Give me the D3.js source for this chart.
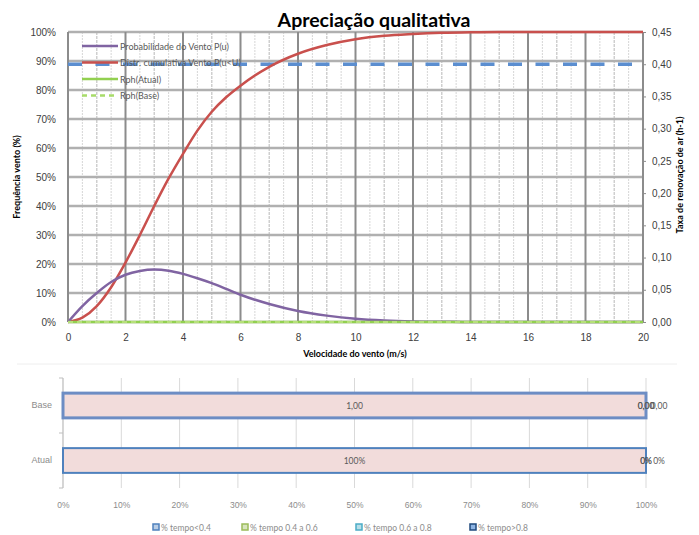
<!DOCTYPE html>
<html>
<head>
<meta charset="utf-8">
<script src="https://cdn.jsdelivr.net/npm/d3@7"></script>
<style>
  body { margin: 0; background: #fff; }
  svg { display: block; font-family: Lato, "Open Sans", sans-serif; }
</style>
</head>
<body>
<div id="chart"></div>
<script>
// wind speed (m/s)
var speed = [0,0.5,1,1.5,2,2.5,3,3.5,4,4.5,5,5.5,6,7,8,9,10,11,12,13,14,15,16,17,18,19,20];
// Probabilidade do Vento P(u) in %
var probVento = [0,5.5,10,13.8,16.3,17.6,18.1,17.7,16.6,15.1,13.4,11.4,9.4,6.2,3.8,2.2,1.1,0.5,0.2,0.1,0,0,0,0,0,0,0];
// Distr. cumulativa in %
var cumVento = [0,1.5,5.5,12,20.5,30,40,49.5,58,66,72.5,77.5,81.5,88,92.5,95.5,97.5,98.7,99.3,99.7,99.9,100,100,100,100,100,100];
// Rph lines (right axis, h-1)
var rphAtual = 0;
var rphBase = 0;
var rphLimite = 0.40;

var leftTicks = [0,10,20,30,40,50,60,70,80,90,100];
var rightTicks = [0,0.05,0.10,0.15,0.20,0.25,0.30,0.35,0.40,0.45];
var xTicks = [0,2,4,6,8,10,12,14,16,18,20];

var legendNames = ["Probabilidade do Vento P(u)", "Distr. cumulativa Vento P(u<U)", "Rph(Atual)", "Rph(Base)"];

// bottom bar chart
var barCats = ["Base", "Atual"];
var barSeries = ["% tempo<0.4", "% tempo 0.4 a 0.6", "% tempo 0.6 a 0.8", "% tempo>0.8"];
var barBase = [1.00, 0, 0, 0];
var barAtual = [1.00, 0, 0, 0];
var barTicks = [0,0.1,0.2,0.3,0.4,0.5,0.6,0.7,0.8,0.9,1];

var W = 699, H = 535;
var svg = d3.select("#chart").append("svg").attr("width", W).attr("height", H);

// ---------- top chart ----------
var plot = {left: 68, right: 643, top: 32, bottom: 322};
var x = d3.scaleLinear().domain([0,20]).range([plot.left, plot.right]);
var yL = d3.scaleLinear().domain([0,100]).range([plot.bottom, plot.top]);
var yR = d3.scaleLinear().domain([0,0.45]).range([plot.bottom, plot.top]);

var grid = svg.append("g");
// minor verticals every 0.5
grid.selectAll("line.vmin").data(d3.range(0.5, 20, 0.5).filter(d => d % 1 !== 0))
  .enter().append("line")
  .attr("x1", d => x(d)).attr("x2", d => x(d))
  .attr("y1", plot.top).attr("y2", plot.bottom)
  .attr("stroke", "#d6d6d6").attr("stroke-width", 1).attr("stroke-dasharray", "2,1");
// odd integers
grid.selectAll("line.vodd").data(d3.range(1, 20, 2))
  .enter().append("line")
  .attr("x1", d => x(d)).attr("x2", d => x(d))
  .attr("y1", plot.top).attr("y2", plot.bottom)
  .attr("stroke", "#cfcfcf").attr("stroke-width", 1.5).attr("stroke-dasharray", "3,1");
// horizontal majors
grid.selectAll("line.h").data(leftTicks)
  .enter().append("line")
  .attr("x1", plot.left).attr("x2", plot.right)
  .attr("y1", d => yL(d)).attr("y2", d => yL(d))
  .attr("stroke", "#b0b0b0").attr("stroke-width", 2.5);
// vertical majors
grid.selectAll("line.vmaj").data(xTicks)
  .enter().append("line")
  .attr("x1", d => x(d)).attr("x2", d => x(d))
  .attr("y1", plot.top).attr("y2", plot.bottom)
  .attr("stroke", "#8c8c8c").attr("stroke-width", 2);

// axes
var axL = svg.append("g").attr("transform", `translate(${plot.left},0)`)
  .call(d3.axisLeft(yL).tickValues(leftTicks).tickFormat(d => d + "%").tickSize(0).tickPadding(12));
var axR = svg.append("g").attr("transform", `translate(${plot.right},0)`)
  .call(d3.axisRight(yR).tickValues(rightTicks).tickFormat(d => d3.format(".2f")(d).replace(".", ",")).tickSize(3).tickPadding(6));
var axB = svg.append("g").attr("transform", `translate(0,${plot.bottom})`)
  .call(d3.axisBottom(x).tickValues(xTicks).tickSize(0).tickPadding(12));
[axL, axR, axB].forEach(function(a) {
  a.select(".domain").remove();
  a.selectAll("text").attr("fill", "#404040").attr("font-size", "10px");
  a.selectAll("line").attr("stroke", "#8c8c8c");
});

// series
var line = d3.line().curve(d3.curveMonotoneX);
var ptsProb = speed.map((s, i) => [x(s), yL(probVento[i])]);
var ptsCum = speed.map((s, i) => [x(s), yL(cumVento[i])]);

svg.append("line")
  .attr("x1", x(0)).attr("x2", x(20))
  .attr("y1", yR(rphLimite)).attr("y2", yR(rphLimite))
  .attr("stroke", "#5b8ed0").attr("stroke-width", 3.5).attr("stroke-dasharray", "14,13.5");

svg.append("path").attr("d", line(ptsCum))
  .attr("fill", "none").attr("stroke", "#c9504d").attr("stroke-width", 2.5);
svg.append("path").attr("d", line(ptsProb))
  .attr("fill", "none").attr("stroke", "#8064a2").attr("stroke-width", 2.5);

svg.append("line")
  .attr("x1", x(0)).attr("x2", x(20))
  .attr("y1", yR(rphAtual)).attr("y2", yR(rphAtual))
  .attr("stroke", "#92d050").attr("stroke-width", 2.5);
svg.append("line")
  .attr("x1", x(0)).attr("x2", x(20))
  .attr("y1", yR(rphBase)).attr("y2", yR(rphBase))
  .attr("stroke", "#b6e07a").attr("stroke-width", 2).attr("stroke-dasharray", "5,4");

// legend
var legColors = ["#8064a2", "#c9504d", "#92d050", "#a8dc6a"];
var leg = svg.append("g");
legendNames.forEach(function(n, i) {
  var ly = 46 + i * 16.5;
  leg.append("line").attr("x1", 82).attr("x2", 118).attr("y1", ly).attr("y2", ly)
    .attr("stroke", legColors[i]).attr("stroke-width", 2.5)
    .attr("stroke-dasharray", i === 3 ? "5,4" : null);
  leg.append("text").attr("x", 120).attr("y", ly + 3.5).text(n)
    .attr("font-size", "9px").attr("fill", "#595959");
});

// titles
svg.append("text").attr("x", 374).attr("y", 27).attr("text-anchor", "middle")
  .attr("font-size", "19.5px").attr("font-weight", "bold").attr("fill", "#000")
  .text("Apreciação qualitativa");
svg.append("text").attr("transform", "translate(20,177) rotate(-90)").attr("text-anchor", "middle")
  .attr("font-size", "9px").attr("font-weight", "bold").attr("fill", "#000")
  .text("Frequência vento (%)");
svg.append("text").attr("transform", "translate(683,175) rotate(-90)").attr("text-anchor", "middle")
  .attr("font-size", "9px").attr("font-weight", "bold").attr("fill", "#000")
  .text("Taxa de renovação de ar (h-1)");
svg.append("text").attr("x", 355).attr("y", 357).attr("text-anchor", "middle")
  .attr("font-size", "9px").attr("font-weight", "bold").attr("fill", "#000")
  .text("Velocidade do vento (m/s)");

// separator
svg.append("line").attr("x1", 17).attr("x2", 677).attr("y1", 364).attr("y2", 364)
  .attr("stroke", "#eeeeee").attr("stroke-width", 1);

// ---------- bottom chart ----------
var bx = d3.scaleLinear().domain([0,1]).range([63, 646]);
var by = d3.scaleBand().domain(barCats).range([378, 488]).paddingInner(0.55).paddingOuter(0.275);

svg.append("g").selectAll("line").data(barTicks).enter().append("line")
  .attr("x1", d => bx(d)).attr("x2", d => bx(d)).attr("y1", 378).attr("y2", 488)
  .attr("stroke", "#d9d9d9").attr("stroke-width", 1);

var axBx = svg.append("g").attr("transform", "translate(0,488)")
  .call(d3.axisBottom(bx).tickValues(barTicks).tickFormat(d3.format(".0%")).tickSize(0).tickPadding(14));
axBx.select(".domain").remove();
axBx.selectAll("text").attr("fill", "#8c8c8c").attr("font-size", "8.5px");

var axBy = svg.append("g").attr("transform", "translate(63,0)")
  .call(d3.axisLeft(by).tickSize(0).tickPadding(11));
axBy.select(".domain").attr("stroke", "#bfbfbf").attr("d", "M-4,378H0V488H-4");
axBy.selectAll("text").attr("fill", "#8c8c8c").attr("font-size", "9px");
svg.append("line").attr("x1", 59).attr("x2", 63).attr("y1", 433).attr("y2", 433).attr("stroke", "#bfbfbf");

var barData = {Base: barBase, Atual: barAtual};
var segFill = ["#f2dcdb", "#9bbb59", "#4bacc6", "#1f497d"];
barCats.forEach(function(c) {
  var vals = barData[c];
  var acc = 0;
  vals.forEach(function(v, i) {
    svg.append("rect")
      .attr("x", bx(acc)).attr("y", by(c))
      .attr("width", bx(acc + v) - bx(acc)).attr("height", by.bandwidth())
      .attr("fill", segFill[i]).attr("stroke", c === "Base" ? "#6d8dc4" : "#4f81bd")
      .attr("stroke-width", c === "Base" ? 3 : 2);
    var lbl = c === "Base" ? d3.format(".2f")(v).replace(".", ",") : d3.format(".0%")(v);
    var lx = bx(acc + v / 2) + (i === 3 ? 13 : 0);
    svg.append("text").attr("x", lx).attr("y", by(c) + by.bandwidth() / 2 + 3)
      .attr("text-anchor", "middle").attr("font-size", "8.5px").attr("fill", "#595959")
      .text(lbl);
    acc += v;
  });
});

// bottom legend
var bLegX = [153, 242, 356, 470];
var bLegMark = ["#4f81bd", "#9bbb59", "#4bacc6", "#1f497d"];
var bLegFill = ["#b9cde5", "#d7e4bd", "#b7dee8", "#8eb4e3"];
barSeries.forEach(function(n, i) {
  svg.append("rect").attr("x", bLegX[i]).attr("y", 524).attr("width", 6).attr("height", 6)
    .attr("fill", bLegFill[i]).attr("stroke", bLegMark[i]).attr("stroke-width", 1.5);
  svg.append("text").attr("x", bLegX[i] + 8).attr("y", 530.5).text(n)
    .attr("font-size", "8.5px").attr("fill", "#8c8c8c");
});
</script>
</body>
</html>
